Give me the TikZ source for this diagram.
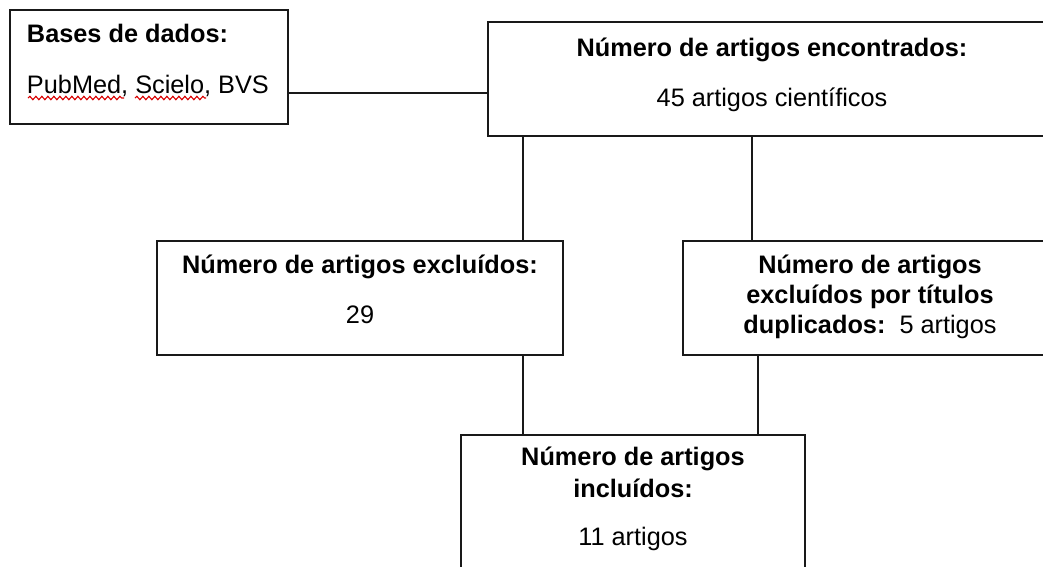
\documentclass[tikz,border=0pt]{standalone}
\usepackage{fontspec}
\setmainfont{Liberation Sans}
\usetikzlibrary{decorations.pathmorphing}
\begin{document}
\begin{tikzpicture}[x=1pt,y=-1pt,
  box/.style={draw=black!90, line width=1.8pt, rectangle, inner sep=0pt, outer sep=0pt},
  link/.style={draw=black!90, line width=1.8pt},
  txt/.style={inner sep=0pt, outer sep=0pt, font=\fontsize{25.3}{30}\selectfont},
  btxt/.style={txt, font=\fontsize{25.3}{30}\selectfont\bfseries},
  spell/.style={draw=red!85!black, line width=1.1pt, decorate, decoration={snake, amplitude=1.7pt, segment length=6pt}}]
\useasboundingbox (0,0) rectangle (1043,566);
\fill[white] (0,0) rectangle (1043,566);
\clip (0,0) rectangle (1043,566);
% boxes
\node[box, minimum width=278pt, minimum height=114pt] (A) at (149,67) {};
\node[box, minimum width=568pt, minimum height=114pt] (B) at (772,79) {};
\node[box, minimum width=406pt, minimum height=114pt] (C) at (360,298) {};
\node[box, minimum width=374pt, minimum height=114pt] (D) at (870,298) {};
\node[box, minimum width=344pt, minimum height=150pt] (E) at (633,510) {};
% texts
\node[btxt, anchor=base west] (a1) at (27,42) {Bases de dados:};
\node[txt, anchor=base west] (a2) at (27,93) {PubMed, Scielo, BVS};
\node[btxt, anchor=base] (b1) at (772,56) {Número de artigos encontrados:};
\node[txt, anchor=base] (b2) at (772,106) {45 artigos científicos};
\node[btxt, anchor=base] (c1) at (360,273) {Número de artigos excluídos:};
\node[txt, anchor=base] (c2) at (360,323) {29};
\node[btxt, anchor=base] (d1) at (870,273) {Número de artigos};
\node[btxt, anchor=base] (d2) at (870,303) {excluídos por títulos};
\node[txt, anchor=base] (d3) at (870,333) {\textbf{duplicados:}\ \ 5 artigos};
\node[btxt, anchor=base] (e1) at (633,465) {Número de artigos};
\node[btxt, anchor=base] (e2) at (633,497) {incluídos:};
\node[txt, anchor=base] (e3) at (633,545) {11 artigos};
% spell-check underlines
\draw[spell] (28,98) -- (124,98);
\draw[spell] (135,98) -- (206,98);
% connectors
\draw[link] ([yshift=-26pt]A.east) -- ([yshift=-26pt]A.east -| B.west);
\draw[link] ([xshift=163pt]C.north |- B.south) -- ([xshift=163pt]C.north);
\draw[link] ([xshift=-118pt]D.north |- B.south) -- ([xshift=-118pt]D.north);
\draw[link] ([xshift=163pt]C.south) -- ([xshift=163pt]C.south |- E.north);
\draw[link] ([xshift=-112pt]D.south) -- ([xshift=-112pt]D.south |- E.north);
\end{tikzpicture}
\end{document}
